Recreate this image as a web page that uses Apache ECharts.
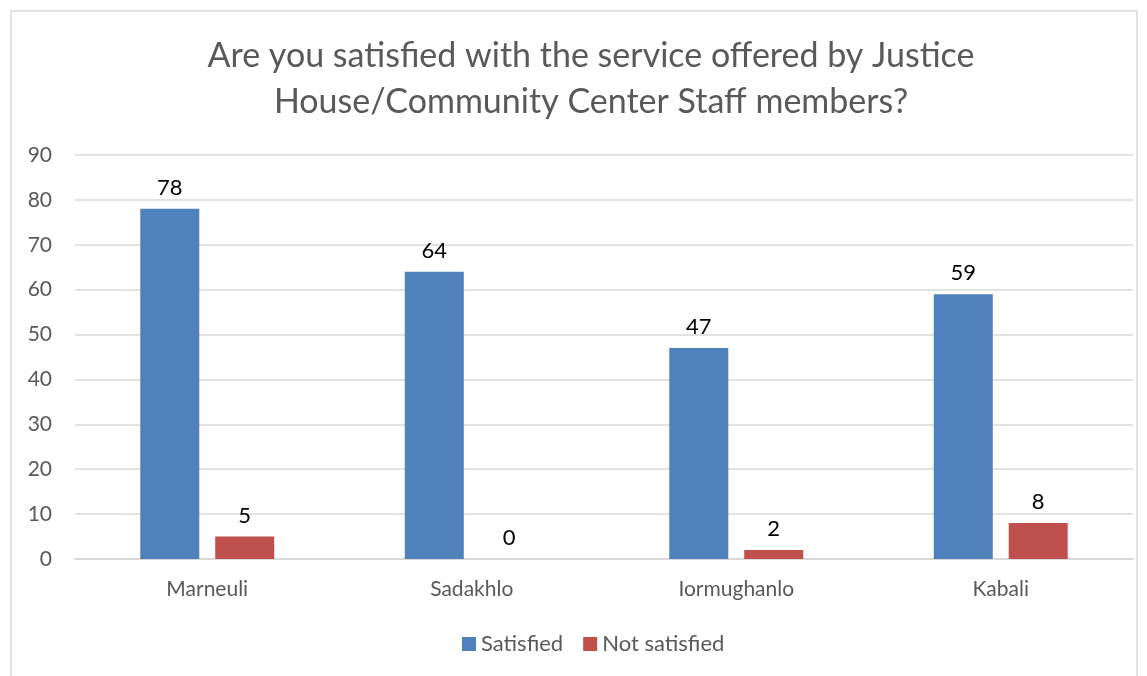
<!DOCTYPE html>
<html>
<head>
<meta charset="utf-8">
<script src="https://cdn.jsdelivr.net/npm/echarts@6/dist/echarts.min.js"></script>
<style>
  html, body { margin: 0; padding: 0; background: #fff; }
  #chart { width: 1147px; height: 676px; }
</style>
</head>
<body>
<div id="chart"></div>
<script>
const titleText = 'Are you satisfied with the service offered by Justice\nHouse/Community Center Staff members?';
const categories = ['Marneuli', 'Sadakhlo', 'Iormughanlo', 'Kabali'];
const satisfied = [78, 64, 47, 59];
const notSatisfied = [5, 0, 2, 8];
const seriesNames = ['Satisfied', 'Not satisfied'];

const FONT = 'Lato, "Open Sans", sans-serif';
const chart = echarts.init(document.getElementById('chart'), null, { renderer: 'canvas' });

const labelStyle = {
  show: true,
  position: 'top',
  distance: 10,
  color: '#000',
  fontSize: 22,
  fontFamily: FONT
};

chart.setOption({
  animation: false,
  backgroundColor: '#fff',
  graphic: [{
    type: 'rect',
    shape: { x: 11, y: 11, width: 1126, height: 700 },
    style: { fill: 'none', stroke: '#d9d9d9', lineWidth: 1.5 },
    silent: true
  }],
  title: {
    text: titleText,
    left: 586,
    top: 28,
    textAlign: 'center',
    textStyle: {
      color: '#595959',
      fontSize: 34,
      fontWeight: 'normal',
      fontFamily: FONT,
      lineHeight: 46
    }
  },
  legend: {
    data: seriesNames,
    left: 457,
    top: 628,
    itemWidth: 14,
    itemHeight: 14,
    itemGap: 20,
    icon: 'rect',
    textStyle: { color: '#595959', fontSize: 22, fontFamily: FONT }
  },
  grid: { left: 75, right: 14, top: 155, bottom: 117, containLabel: false },
  xAxis: {
    type: 'category',
    data: categories,
    axisLine: { lineStyle: { color: '#d9d9d9', width: 2 } },
    axisTick: { show: false },
    axisLabel: { color: '#595959', fontSize: 21, fontFamily: FONT, margin: 20 }
  },
  yAxis: {
    type: 'value',
    min: 0,
    max: 90,
    interval: 10,
    axisLine: { show: false },
    axisTick: { show: false },
    splitLine: { lineStyle: { color: '#d9d9d9', width: 1.5 } },
    axisLabel: { color: '#595959', fontSize: 21, fontFamily: FONT, margin: 23 }
  },
  series: [
    {
      name: seriesNames[0],
      type: 'bar',
      data: satisfied,
      barWidth: 59,
      barGap: '27%',
      itemStyle: { color: '#4F81BD' },
      label: labelStyle
    },
    {
      name: seriesNames[1],
      type: 'bar',
      data: notSatisfied,
      barWidth: 59,
      itemStyle: { color: '#C0504D' },
      label: labelStyle
    }
  ]
});
</script>
</body>
</html>
